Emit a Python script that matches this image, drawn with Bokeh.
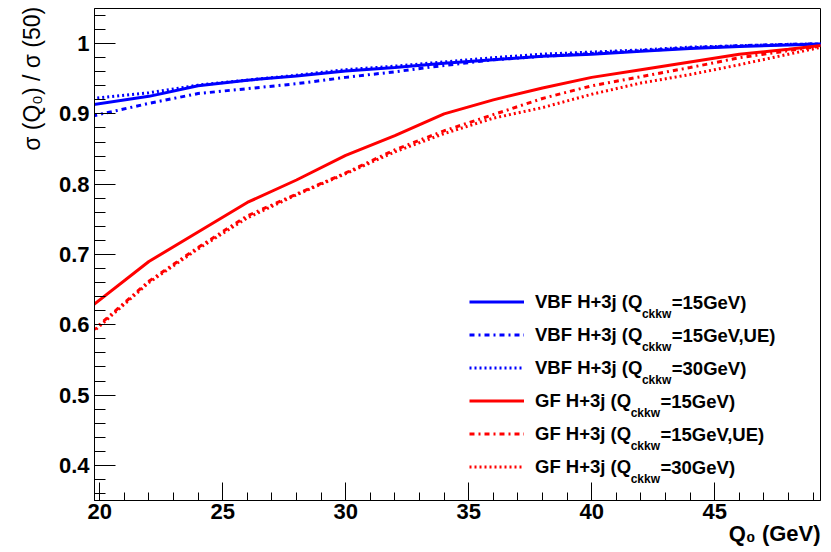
from bokeh.plotting import figure
from bokeh.models import (Range1d, SingleIntervalTicker, CustomJSTickFormatter,
                          Legend, LegendItem, Label)
from bokeh.embed import file_html
from bokeh.resources import INLINE

# ---------------- data ----------------
q0 = [19.7, 22, 24, 26, 28, 30, 32, 34, 36, 38, 40, 42, 44, 46, 48, 50]

vbf_15    = [0.913, 0.925, 0.940, 0.948, 0.954, 0.961, 0.966, 0.972, 0.977, 0.982,
             0.985, 0.989, 0.993, 0.996, 0.998, 1.000]
vbf_15_ue = [0.897, 0.915, 0.929, 0.936, 0.943, 0.952, 0.960, 0.969, 0.977, 0.982,
             0.986, 0.990, 0.994, 0.997, 0.999, 1.000]
vbf_30    = [0.922, 0.930, 0.941, 0.948, 0.955, 0.963, 0.968, 0.974, 0.980, 0.985,
             0.988, 0.991, 0.995, 0.997, 0.999, 1.000]
gf_15     = [0.627, 0.690, 0.732, 0.774, 0.806, 0.841, 0.869, 0.900, 0.920, 0.937,
             0.952, 0.963, 0.974, 0.985, 0.992, 1.000]
gf_15_ue  = [0.591, 0.662, 0.710, 0.755, 0.786, 0.816, 0.849, 0.876, 0.899, 0.922,
             0.940, 0.953, 0.966, 0.980, 0.990, 1.000]
gf_30     = [0.589, 0.660, 0.708, 0.752, 0.785, 0.815, 0.846, 0.872, 0.894, 0.909,
             0.928, 0.944, 0.956, 0.970, 0.985, 1.000]

series_names = ["VBF H+3j (Q", "VBF H+3j (Q", "VBF H+3j (Q",
                "GF H+3j (Q", "GF H+3j (Q", "GF H+3j (Q"]
series_sub = ["ckkw"] * 6
series_rest = ["=15GeV)", "=15GeV,UE)", "=30GeV)", "=15GeV)", "=15GeV,UE)", "=30GeV)"]
series_values = [vbf_15, vbf_15_ue, vbf_30, gf_15, gf_15_ue, gf_30]

x_title = "Q\u2080 (GeV)"
y_title = "\u03c3 (Q\u2080) / \u03c3 (50)"

# ---------------- styles ----------------
colors = ["#0000ff", "#0000ff", "#0000ff", "#ff0000", "#ff0000", "#ff0000"]
dashes = ["solid", "5 4 2 4", "2 3", "solid", "5 4 2 4", "2 3"]
FONT = "Liberation Sans"
NBSP = "\u00a0"

BOLD = {' ': 278, '(': 333, ')': 333, '+': 584, '=': 584, ',': 278, '/': 278, '.': 278,
        'A': 722, 'B': 722, 'C': 722, 'E': 667, 'F': 611, 'G': 778, 'H': 722, 'Q': 778,
        'U': 722, 'V': 667, 'c': 556, 'e': 556, 'j': 278, 'k': 556, 'w': 778}
for d in "0123456789":
    BOLD[d] = 556


def tw(s, size):
    return sum(BOLD.get(c, 556) for c in s) * size / 1000.0


p = figure(width=825, height=552,
           x_range=Range1d(19.79, 49.3), y_range=Range1d(0.35, 1.05),
           output_backend="svg", toolbar_location=None,
           min_border_left=94, min_border_right=5, min_border_top=8, min_border_bottom=52)
p.xgrid.visible = False
p.ygrid.visible = False
p.outline_line_color = "black"
p.background_fill_color = "white"
p.border_fill_color = "white"

for ax in (p.xaxis[0], p.yaxis[0]):
    ax.major_tick_out = 0
    ax.minor_tick_out = 0
    ax.axis_line_color = "black"
    ax.major_tick_line_color = "black"
    ax.minor_tick_line_color = "black"
    ax.major_label_text_font = FONT
    ax.major_label_text_font_style = "bold"
    ax.major_label_text_font_size = "22px"
    ax.major_label_text_color = "black"
    ax.axis_label_text_font = FONT
    ax.axis_label_text_color = "black"
    ax.axis_label_align = "end"

p.yaxis.major_tick_in = 21
p.yaxis.minor_tick_in = 11
p.xaxis.major_tick_in = 18
p.xaxis.minor_tick_in = 8
p.yaxis.major_label_standoff = 5
p.xaxis.major_label_standoff = 3
p.yaxis.ticker = SingleIntervalTicker(interval=0.1, num_minor_ticks=5)
p.xaxis.ticker = SingleIntervalTicker(interval=5, num_minor_ticks=5)
p.yaxis.formatter = CustomJSTickFormatter(code="return (Math.round(tick*10)/10).toString();")
p.xaxis.formatter = CustomJSTickFormatter(code="return Math.round(tick).toString();")

# the axis title is centred on the axis end, so pad it to push the text inside
p.xaxis.axis_label = x_title + NBSP * 15
p.xaxis.axis_label_text_font_style = "bold"
p.xaxis.axis_label_text_font_size = "22px"
p.xaxis.axis_label_standoff = -1
p.yaxis.axis_label = y_title + NBSP * 22
p.yaxis.axis_label_text_font_style = "normal"
p.yaxis.axis_label_text_font_size = "23px"
p.yaxis.axis_label_standoff = 11

items = []
for name, vals, col, dash in zip(series_names, series_values, colors, dashes):
    r = p.line(q0, vals, line_color=col, line_width=3, line_dash=dash)
    items.append(LegendItem(label=name, renderers=[r]))

LEG_X, LEG_Y = 375, 18
GW, GH, SP, STAND = 55, 31, 2, 11
MAIN_FS, SUB_FS = 18.5, 12
legend = Legend(items=items, location=(LEG_X, LEG_Y), orientation="vertical",
                glyph_width=GW, glyph_height=GH, label_height=GH, label_standoff=STAND,
                spacing=SP, padding=0, margin=0,
                border_line_alpha=0, background_fill_alpha=0,
                label_text_font=FONT, label_text_font_style="bold",
                label_text_font_size=f"{MAIN_FS}px", label_text_color="black")
p.add_layout(legend)

n = len(items)
leg_h = n * GH + (n - 1) * SP
tx = LEG_X + GW + STAND
for i, (name, sub, rest) in enumerate(zip(series_names, series_sub, series_rest)):
    cy = LEG_Y + leg_h - GH / 2.0 - i * (GH + SP)
    mw = tw(name, MAIN_FS)
    sx = tx + mw - 1
    p.add_layout(Label(x=sx, y=cy - 5.7 - 6, x_units="screen", y_units="screen",
                       text=sub, text_font=FONT, text_font_style="bold",
                       text_font_size=f"{SUB_FS}px", text_color="black",
                       text_align="left", text_baseline="alphabetic"))
    rx = sx + tw(sub, SUB_FS) + 0.5
    p.add_layout(Label(x=rx, y=cy, x_units="screen", y_units="screen",
                       text=rest, text_font=FONT, text_font_style="bold",
                       text_font_size=f"{MAIN_FS}px", text_color="black",
                       text_align="left", text_baseline="middle"))

open("out.html", "w").write(file_html(p, INLINE))
